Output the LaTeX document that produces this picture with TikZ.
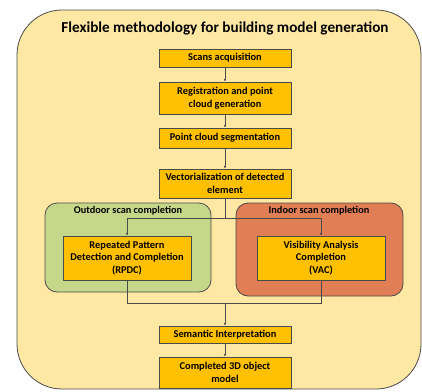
\documentclass[tikz,border=0pt]{standalone}
\usepackage{fontspec}
\setmainfont{Carlito}
\usetikzlibrary{arrows.meta}

\definecolor{outerfill}{HTML}{FFE8A3}
\definecolor{boxfill}{HTML}{FFC000}
\definecolor{greenfill}{HTML}{C5D88A}
\definecolor{orangefill}{HTML}{E07F55}
\definecolor{edge}{HTML}{4A4A4A}

\tikzset{
  procbox/.style={draw=edge, fill=boxfill, line width=0.5pt, minimum width=132pt,
    align=center, inner sep=1pt, font=\bfseries\fontsize{10.4}{12.5}\selectfont},
  groupbox/.style={draw=edge, line width=0.8pt, rounded corners=12pt},
  grouptitle/.style={inner sep=0pt, font=\bfseries\fontsize{10.3}{12}\selectfont},
  link/.style={draw=edge, line width=0.5pt},
  tip/.style={-{Latex[length=3pt,width=2.5pt]}}
}

\begin{document}
\begin{tikzpicture}[x=1pt,y=-1pt]
      \useasboundingbox (0,0) rectangle (422,391);

      % frame
      \draw[draw=edge, fill=outerfill, line width=0.8pt, rounded corners=45pt] (17,10) rectangle (421,389);
      \node[font=\bfseries\fontsize{15.2}{17}\selectfont] (title) at (225,28) {Flexible methodology for building model generation};

      % main chain
      \node[procbox, minimum height=18pt] (scans) at (225,58) {Scans acquisition};
      \node[procbox, minimum height=32pt] (reg) at (225,98) {Registration and point\\cloud generation};
      \node[procbox, minimum height=20pt] (seg) at (225,138) {Point cloud segmentation};
      \node[procbox, minimum height=29pt] (vect) at (225,183.5) {Vectorialization of detected\\element};

      % completion groups
      \draw[groupbox, fill=greenfill] (45,203) rectangle (211,292);
      \draw[groupbox, fill=orangefill] (236,203) rectangle (403,296);
      \node[grouptitle] (outdoor) at (128,211) {Outdoor scan completion};
      \node[grouptitle] (indoor) at (319,211) {Indoor scan completion};
      \node[procbox, minimum width=128pt, minimum height=44pt] (rpdc) at (127,258) {Repeated Pattern\\Detection and Completion\\(RPDC)};
      \node[procbox, minimum width=128pt, minimum height=44pt] (vac) at (321,258) {Visibility Analysis\\Completion\\(VAC)};

      % output
      \node[procbox, minimum height=17pt] (sem) at (225,334.5) {Semantic Interpretation};
      \node[procbox, minimum height=31pt] (comp) at (225,372.5) {Completed 3D object\\model};

      % connectors
      \draw[link, tip] (scans) -- (reg);
      \draw[link, tip] (reg) -- (seg);
      \draw[link, tip] (seg) -- (vect);
      \path (225,218.5) coordinate (split);
      \path (225,303) coordinate (merge);
      \draw[link] (vect.south) -- (split);
      \draw[link, tip] (split) -| (rpdc.north);
      \draw[link, tip] (split) -| (vac.north);
      \draw[link] (rpdc.south) |- (merge);
      \draw[link] (vac.south) |- (merge);
      \draw[link, tip] (merge) -- (sem.north);
      \draw[link, tip] (sem) -- (comp);

\end{tikzpicture}
\end{document}
